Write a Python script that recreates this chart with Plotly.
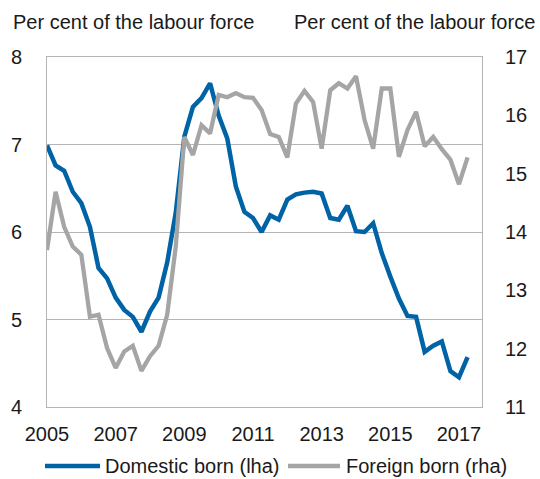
import plotly.graph_objects as go

# Quarterly data, 2005Q1 - 2017Q2
quarters = [2005 + i / 4 for i in range(50)]

domestic_born = [
    6.99, 6.76, 6.70, 6.46, 6.33, 6.06, 5.59, 5.47, 5.25, 5.11,
    5.03, 4.86, 5.09, 5.25, 5.65, 6.22, 7.09, 7.43, 7.53, 7.70,
    7.33, 7.07, 6.52, 6.23, 6.16, 6.00, 6.19, 6.14, 6.37, 6.43,
    6.45, 6.46, 6.44, 6.16, 6.14, 6.30, 6.01, 6.00, 6.10, 5.76,
    5.49, 5.24, 5.04, 5.03, 4.63, 4.70, 4.75, 4.41, 4.34, 4.57,
]

foreign_born = [
    13.69, 14.69, 14.09, 13.75, 13.61, 12.55, 12.58, 12.01, 11.67, 11.95,
    12.05, 11.62, 11.87, 12.05, 12.58, 13.75, 15.63, 15.32, 15.83, 15.69,
    16.35, 16.31, 16.38, 16.31, 16.30, 16.09, 15.68, 15.63, 15.28, 16.20,
    16.42, 16.23, 15.43, 16.43, 16.55, 16.46, 16.67, 15.92, 15.43, 16.46,
    16.46, 15.29, 15.75, 16.06, 15.47, 15.63, 15.42, 15.24, 14.82, 15.28,
]

series_names = ["Domestic born (lha)", "Foreign born (rha)"]
axis_title = "Per cent of the labour force"
x_tickvals = [2005, 2007, 2009, 2011, 2013, 2015, 2017]
x_ticktext = ["2005", "2007", "2009", "2011", "2013", "2015", "2017"]
left_ticks = [4, 5, 6, 7, 8]
right_ticks = [11, 12, 13, 14, 15, 16, 17]

BLUE = "#0063A6"
GREY = "#A5A5A5"
GRID = "#B4B4B4"
FONT = "Liberation Sans, Arial, sans-serif"
TXT = "#1a1a1a"
FS = 20

# plot area geometry (px)
L, R, T, B = 47, 58, 57, 72
W, H = 540, 479
PW, PH = W - L - R, H - T - B


def px_x(px):
    return (px - L) / PW


def px_y(py):
    return (H - B - py) / PH


fig = go.Figure()
fig.add_trace(go.Scatter(
    x=quarters, y=domestic_born, mode="lines", name=series_names[0],
    line=dict(color=BLUE, width=4.5), yaxis="y", showlegend=False,
))
fig.add_trace(go.Scatter(
    x=quarters, y=foreign_born, mode="lines", name=series_names[1],
    line=dict(color=GREY, width=4.3), yaxis="y2", showlegend=False,
))

# custom legend (line samples + labels) below the plot
legend_y = 466
shapes = [
    dict(type="line", xref="paper", yref="paper", x0=px_x(45), x1=px_x(100),
         y0=px_y(legend_y), y1=px_y(legend_y), line=dict(color=BLUE, width=4.5)),
    dict(type="line", xref="paper", yref="paper", x0=px_x(288), x1=px_x(340),
         y0=px_y(legend_y), y1=px_y(legend_y), line=dict(color=GREY, width=4.3)),
]
annotations = [
    dict(text=series_names[0], xref="paper", yref="paper", x=px_x(103),
         xanchor="left", y=px_y(legend_y), yanchor="middle", showarrow=False,
         font=dict(size=FS, color=TXT)),
    dict(text=series_names[1], xref="paper", yref="paper", x=px_x(344),
         xanchor="left", y=px_y(legend_y), yanchor="middle", showarrow=False,
         font=dict(size=FS, color=TXT)),
    dict(text=axis_title, xref="paper", yref="paper", x=px_x(11),
         xanchor="left", y=px_y(22), yanchor="middle", showarrow=False,
         font=dict(size=FS, color=TXT)),
    dict(text=axis_title, xref="paper", yref="paper", x=px_x(537),
         xanchor="right", y=px_y(22), yanchor="middle", showarrow=False,
         font=dict(size=FS, color=TXT)),
]

fig.update_layout(
    width=W, height=H,
    margin=dict(l=L, r=R, t=T, b=B, autoexpand=False),
    paper_bgcolor="white", plot_bgcolor="white",
    font=dict(family=FONT, size=FS, color=TXT),
    showlegend=False,
    xaxis=dict(
        range=[2005, 2017.67], tickvals=x_tickvals, ticktext=x_ticktext,
        showgrid=False, zeroline=False, showline=True, linecolor=GRID,
        linewidth=1, mirror=True, ticks="", ticklabelstandoff=9,
        tickfont=dict(size=FS, color=TXT), automargin=False,
    ),
    yaxis=dict(
        range=[4, 8], tickvals=left_ticks, showgrid=True, gridcolor=GRID,
        gridwidth=1, zeroline=False, showline=True, linecolor=GRID,
        linewidth=1, mirror=True, ticks="", ticklabelstandoff=20,
        tickfont=dict(size=FS, color=TXT), automargin=False,
    ),
    yaxis2=dict(
        range=[11, 17], tickvals=right_ticks, overlaying="y", side="right",
        showgrid=False, zeroline=False, showline=False, ticks="",
        ticklabelstandoff=22, tickfont=dict(size=FS, color=TXT),
        automargin=False,
    ),
    shapes=shapes,
    annotations=annotations,
)

fig.write_html(
    "out.html",
    config={"displayModeBar": False},
    post_script="document.body.style.margin='0';document.body.style.overflow='hidden';",
)
